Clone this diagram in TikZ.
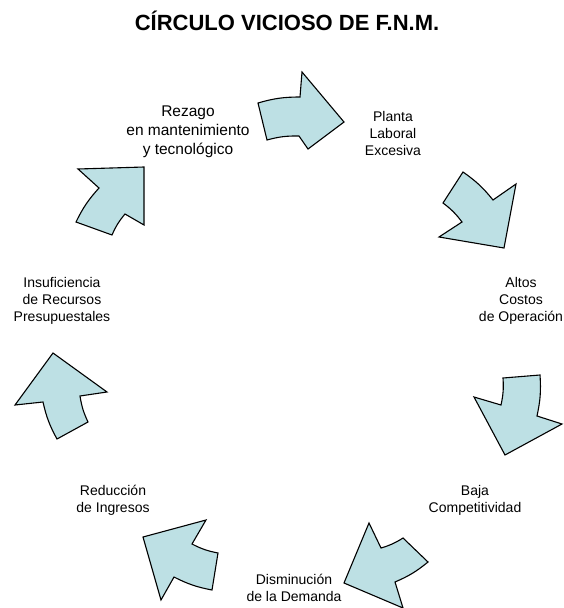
\documentclass[tikz,border=0pt]{standalone}
\usepackage{fontspec}
\setmainfont{Liberation Sans}
\definecolor{celeste}{RGB}{189,224,228}
\tikzset{
  flecha/.style={draw=black, fill=celeste, line width=1.1pt, line join=miter},
  rotulo/.style={align=center, inner sep=0pt, font=\fontsize{14}{17}\selectfont}
}
\begin{document}
\begin{tikzpicture}[x=1pt,y=-1pt]
        \useasboundingbox (0,0) rectangle (564,608);
        % Title
        \node[inner sep=0pt, font=\bfseries\fontsize{22}{26}\selectfont] (titulo) at (287,21) {CÍRCULO VICIOSO DE F.N.M.};
        % Nodes
        \node[rotulo, font=\fontsize{15.5}{19}\selectfont] (rezago) at (188,132) {Rezago\\en mantenimiento\\y tecnológico};
        \node[rotulo] (planta) at (393,133) {Planta\\Laboral\\Excesiva};
        \node[rotulo] (altos) at (521,301) {Altos\\Costos\\de Operación};
        \node[rotulo] (baja) at (475,500) {Baja\\Competitividad};
        \node[rotulo] (demanda) at (294,588) {Disminución\\de la Demanda};
        \node[rotulo] (ingresos) at (113,500) {Reducción\\de Ingresos};
        \node[rotulo] (recursos) at (62,301) {Insuficiencia\\de Recursos\\Presupuestales};
        % Arrows
        \draw[flecha] (258,103) to[bend left=8] (300,97) -- (302,72) -- (344,122) -- (308,149) -- (299,136) to[bend right=8] (267,140) -- cycle;
        \draw[flecha] (463,172) to[bend left=8] (493,200) -- (516,184) -- (504,248) -- (439,237) -- (462,222) to[bend right=8] (443,203) -- cycle;
        \draw[flecha] (540,375) to[bend left=8] (537,416) -- (562,424) -- (505,455) -- (474,397) -- (501,405) to[bend right=8] (503,378) -- cycle;
        \draw[flecha] (428,562) to[bend left=8] (395,582) -- (403,608) -- (344,583) -- (369,523) -- (381,548) to[bend right=8] (403,538) -- cycle;
        \draw[flecha] (212,590) to[bend left=8] (174,577) -- (161,600) -- (143,537) -- (206,520) -- (192,544) to[bend right=8] (218,553) -- cycle;
        \draw[flecha] (57,439) to[bend left=8] (43,402) -- (15,405) -- (53,353) -- (107,392) -- (80,396) to[bend right=8] (88,422) -- cycle;
        \draw[flecha] (76,222) to[bend left=8] (99,188) -- (78,169) -- (144,167) -- (144,225) -- (125,214) to[bend right=8] (112,235) -- cycle;
\end{tikzpicture}
\end{document}
